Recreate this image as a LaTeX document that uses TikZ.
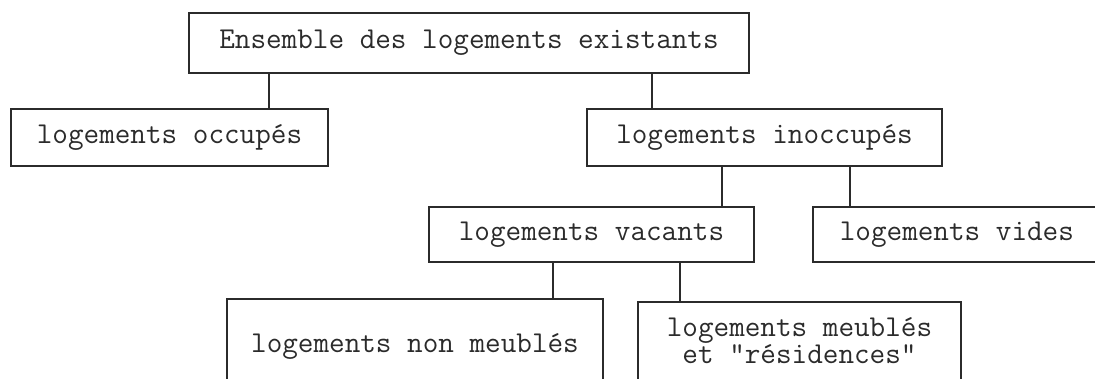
\documentclass[tikz,border=0pt]{standalone}
\usepackage{fontspec}
\newfontfamily\typew{Latin Modern Mono}
\definecolor{ink}{HTML}{2B2B2B}
\begin{document}
\begin{tikzpicture}[x=1pt,y=-1pt,
  box/.style={draw=ink, line width=1.7pt, inner sep=0pt, text=ink,
    font=\typew\fontsize{30.3}{27.5}\selectfont, align=center},
  link/.style={draw=ink, line width=1.7pt}]
\useasboundingbox[fill=white] (0,0) rectangle (1095,378);
% boxes
\node[box, minimum width=560pt, minimum height=60pt] (top) at (469,43) {Ensemble des logements existants};
\node[box, minimum width=317pt, minimum height=57pt] (occ) at (169.5,137.5) {logements occupés};
\node[box, minimum width=355pt, minimum height=57pt] (inocc) at (764.5,137.5) {logements inoccupés};
\node[box, minimum width=325pt, minimum height=55pt] (vac) at (591.5,234.5) {logements vacants};
\node[box, minimum height=55pt, anchor=west, inner xsep=27pt] (vides) at (812,234.5) {logements vides\hspace*{40pt}};
\node[box, minimum width=376pt, anchor=north, text height=54pt, text depth=60pt] (nm) at (415,298) {logements non meublés};
\node[box, minimum width=323pt, anchor=north, text height=62pt, text depth=60pt] (meub) at (799.5,301) {logements meublés\\et "résidences"};
% connector positions
\coordinate (c1) at (269,0);
\coordinate (c2) at (652,0);
\coordinate (c3) at (722,0);
\coordinate (c4) at (850,0);
\coordinate (c5) at (553,0);
\coordinate (c6) at (680,0);
% connectors
\draw[link] (top.south -| c1) -- (occ.north -| c1);
\draw[link] (top.south -| c2) -- (inocc.north -| c2);
\draw[link] (inocc.south -| c3) -- (vac.north -| c3);
\draw[link] (inocc.south -| c4) -- (vides.north -| c4);
\draw[link] (vac.south -| c5) -- (nm.north -| c5);
\draw[link] (vac.south -| c6) -- (meub.north -| c6);
\end{tikzpicture}
\end{document}
